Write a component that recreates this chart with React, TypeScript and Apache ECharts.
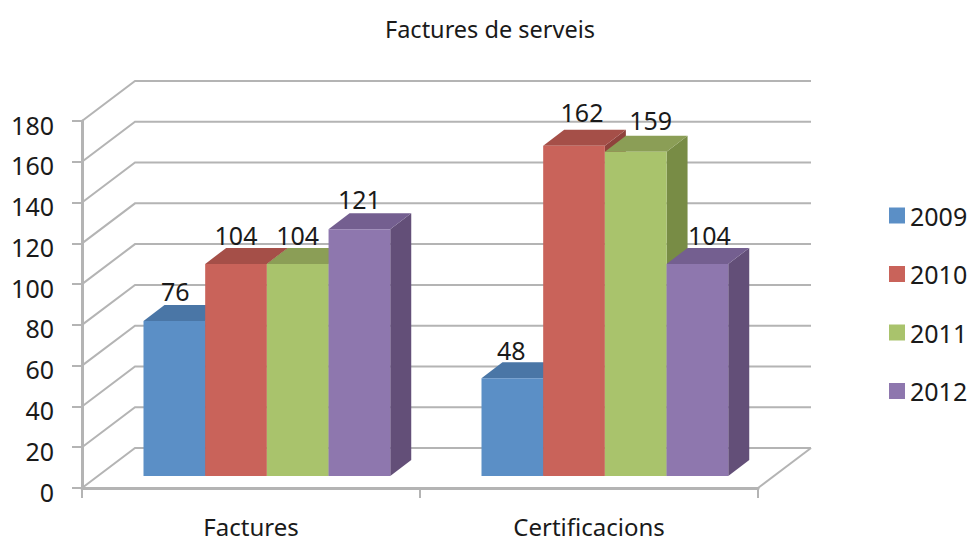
import React, { useEffect, useRef } from "react";
import * as echarts from "echarts";

const titleText = "Factures de serveis";
const categories = ["Factures", "Certificacions"];
const years = ["2009", "2010", "2011", "2012"];
const values2009 = [76, 48];
const values2010 = [104, 162];
const values2011 = [104, 159];
const values2012 = [121, 104];
const yTicks = [0, 20, 40, 60, 80, 100, 120, 140, 160, 180];

const seriesValues = [values2009, values2010, values2011, values2012];
const frontColors = ["#5b8fc6", "#c9635a", "#a9c36c", "#8e77ae"];
const topColors = ["#4a76a6", "#a54f48", "#8b9e56", "#745f90"];
const sideColors = ["#3f648f", "#8f423c", "#788c45", "#634f78"];
// horizontal, vertical nudges of the value labels, by year then category
const labelNudges = [
  [[1, -30], [-1, -28]],
  [[0, -29], [8, -34]],
  [[0, -29], [15, -32]],
  [[0, -30], [12, -29]],
];

const FONT = "'Noto Sans', sans-serif";
const GRID = "#b4b4b4";
const DEPTH_X = 53;
const DEPTH_Y = 40;
const BAR_DX = 21;
const BAR_DY = 16;
const BAR_LIFT = 12;
const BAND_BAR = 0.1825;

export default function App() {
  const ref = useRef<HTMLDivElement>(null);
  useEffect(() => {
    const chart = echarts.init(ref.current!, null, { renderer: "svg" });

    const wallRender = (params: any, api: any) => {
      const cs = params.coordSys;
      const y = api.coord([0, api.value(1)])[1];
      const right = cs.x + cs.width;
      const isZero = api.value(1) === 0;
      const stroke = { stroke: GRID, lineWidth: 2, fill: "none" };
      const children: any[] = [
        {
          type: "polyline",
          shape: {
            points: [
              [cs.x, y],
              [cs.x + DEPTH_X, y - DEPTH_Y],
              [right + DEPTH_X, y - DEPTH_Y],
            ],
          },
          style: stroke,
        },
      ];
      if (isZero) {
        children.push({
          type: "line",
          shape: { x1: right, y1: y, x2: right + DEPTH_X, y2: y - DEPTH_Y },
          style: stroke,
        });
      }
      return { type: "group", children };
    };

    const barRender = (yearIndex: number) => (params: any, api: any) => {
      const cat = api.value(0);
      const val = api.value(1);
      const band = api.size([1, 0])[0];
      const w = band * BAND_BAR;
      const cx = api.coord([cat, 0])[0];
      const x0 = cx - band / 2 + 61.5 + yearIndex * w;
      const x1 = x0 + w;
      const yBase = api.coord([cat, 0])[1] - BAR_LIFT;
      const yTop = api.coord([cat, val])[1] - BAR_LIFT;
      const nudge = labelNudges[yearIndex][cat];
      return {
        type: "group",
        children: [
          {
            type: "polygon",
            shape: {
              points: [
                [x1, yTop],
                [x1 + BAR_DX, yTop - BAR_DY],
                [x1 + BAR_DX, yBase - BAR_DY],
                [x1, yBase],
              ],
            },
            style: { fill: sideColors[yearIndex] },
          },
          {
            type: "polygon",
            shape: {
              points: [
                [x0, yTop],
                [x0 + BAR_DX, yTop - BAR_DY],
                [x1 + BAR_DX, yTop - BAR_DY],
                [x1, yTop],
              ],
            },
            style: { fill: topColors[yearIndex] },
          },
          {
            type: "rect",
            shape: { x: x0, y: yTop, width: w, height: yBase - yTop },
            style: { fill: frontColors[yearIndex] },
          },
          {
            type: "text",
            z2: 100,
            style: {
              text: String(val),
              x: (x0 + x1) / 2 + nudge[0],
              y: yTop + nudge[1],
              align: "center",
              verticalAlign: "middle",
              fontFamily: FONT,
              fontSize: 25,
              fill: "#1a1a1a",
            },
          },
        ],
      };
    };

    chart.setOption({
      animation: false,
      backgroundColor: "#ffffff",
      title: {
        text: titleText,
        left: 485,
        top: 12,
        textAlign: "center",
        textStyle: { fontFamily: FONT, fontSize: 23.5, fontWeight: "normal", color: "#1a1a1a" },
      },
      legend: {
        orient: "vertical",
        left: 889,
        top: 203,
        padding: 0,
        itemWidth: 16,
        itemHeight: 16,
        itemGap: 33.5,
        icon: "rect",
        data: years,
        textStyle: { fontFamily: FONT, fontSize: 25, color: "#1a1a1a" },
      },
      grid: { left: 82, top: 121, width: 676, height: 367, outerBoundsMode: "none" },
      xAxis: {
        type: "category",
        data: categories,
        axisLine: { lineStyle: { color: GRID, width: 3 } },
        axisTick: { show: true, length: 10, lineStyle: { color: GRID, width: 2 } },
        axisLabel: { fontFamily: FONT, fontSize: 24, lineHeight: 20, color: "#1a1a1a", margin: 28 },
        splitLine: { show: false },
      },
      yAxis: {
        type: "value",
        min: 0,
        max: 180,
        interval: 20,
        axisLine: { show: true, lineStyle: { color: GRID, width: 3 } },
        axisTick: { show: true, length: 10, lineStyle: { color: GRID, width: 2 } },
        axisLabel: { fontFamily: FONT, fontSize: 25, color: "#1a1a1a", margin: 28, verticalAlign: "top", lineHeight: 25, padding: [-9, 0, 0, 0] },
        splitLine: { show: false },
      },
      series: [
        {
          type: "custom",
          name: "wall",
          silent: true,
          z: 1,
          renderItem: wallRender,
          encode: { x: 0, y: 1 },
          data: yTicks.map((t) => [0, t]),
        },
        ...years.map((year, i) => ({
          type: "custom",
          name: year,
          z: 2 + i,
          itemStyle: { color: frontColors[i] },
          renderItem: barRender(i),
          encode: { x: 0, y: 1 },
          data: seriesValues[i].map((v, c) => [c, v]),
        })),
      ],
    });
    return () => chart.dispose();
  }, []);
  return (
    <div
      ref={ref}
      style={{ position: "absolute", left: 0, top: 0, width: 971, height: 539 }}
    />
  );
}
